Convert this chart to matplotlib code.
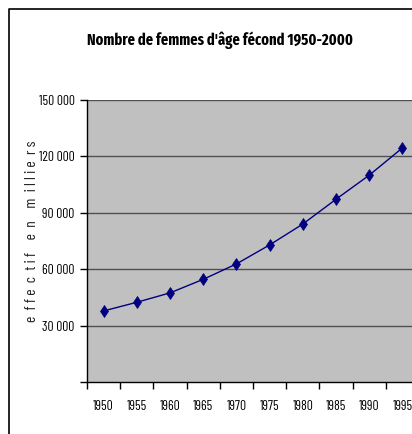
import matplotlib
matplotlib.use("Agg")
import matplotlib.pyplot as plt
from matplotlib.lines import Line2D

years = ["1950", "1955", "1960", "1965", "1970", "1975", "1980", "1985", "1990", "1995"]
values = [37800, 42400, 47400, 54600, 62800, 72900, 84000, 97200, 110000, 124500]
yticks = [30000, 60000, 90000, 120000, 150000]
ytick_labels = ["30 000", "60 000", "90 000", "120 000", "150 000"]
title = "Nombre de femmes d'âge fécond 1950-2000"
ylabel = "e  f f e  c  t i f    e  n    m  i l l i e  r s"

plt.rcParams["font.family"] = ["Barlow Condensed", "DejaVu Sans"]
TITLE_FONT = ["Fira Sans Extra Condensed", "Barlow Condensed", "DejaVu Sans"]

W, H = 412, 434
fig = plt.figure(figsize=(W / 100, H / 100), dpi=100)
ax = fig.add_axes([87 / W, 1 - 382 / H, 11 * 33.2 / W, 282 / H])
ax.set_facecolor("#C0C0C0")

x = list(range(len(years)))
ax.plot(x, values, color="#000080", lw=1.0, marker="d", ms=6, mew=0.5,
        markerfacecolor="#000080", markeredgecolor="#000080")

ax.set_ylim(0, 150000)
ax.set_xlim(-0.5, 10.5)
ax.set_yticks(yticks)
ax.set_yticks([0], minor=True)
ax.yaxis.grid(True, color="#505050", lw=1.0)
ax.set_axisbelow(True)

ax.set_xticks([i - 0.5 for i in range(12)])
ax.set_xticklabels([])
ax.set_xticks(x, minor=True)
ax.tick_params(axis="x", which="major", length=5, direction="out", width=1, color="black")
ax.tick_params(axis="x", which="minor", length=0, pad=13)
ax.tick_params(axis="y", which="both", length=5, direction="out", width=1, color="black", pad=4)

for s in ["top", "right"]:
    ax.spines[s].set_visible(False)
for s in ["left", "bottom"]:
    ax.spines[s].set_color("black")
    ax.spines[s].set_linewidth(1.0)

renderer = fig.canvas.get_renderer()


def width_at(text, size, weight="normal", family=None):
    kw = {} if family is None else {"family": family}
    t = fig.text(0, 0, text, fontsize=size, fontweight=weight, **kw)
    w = t.get_window_extent(renderer).width
    t.remove()
    return w


def fit_size(text, target_px, weight="normal", family=None):
    return 10 * target_px / width_at(text, 10, weight, family)


tick_fs = fit_size("1950", 20.5)
ax.set_yticklabels(ytick_labels, fontsize=tick_fs)
ax.set_xticklabels(years, minor=True, fontsize=tick_fs)

title_fs = fit_size(title, 266, "bold", TITLE_FONT)
fig.text(220 / W, 1 - 40 / H, title, ha="center", va="center", fontsize=title_fs,
         fontweight="bold", family=TITLE_FONT)

yl_fs = tick_fs * 1.15
fig.text(32 / W, 1 - 231 / H, ylabel, rotation=90, ha="center", va="center", fontsize=yl_fs, color="#222222")

bx = 8.5 / W
by = 1 - 8.5 / H
fig.add_artist(Line2D([bx, bx, 1.0], [0.0, by, by], transform=fig.transFigure, color="black", lw=1.2))

fig.savefig("out.png", dpi=100)
